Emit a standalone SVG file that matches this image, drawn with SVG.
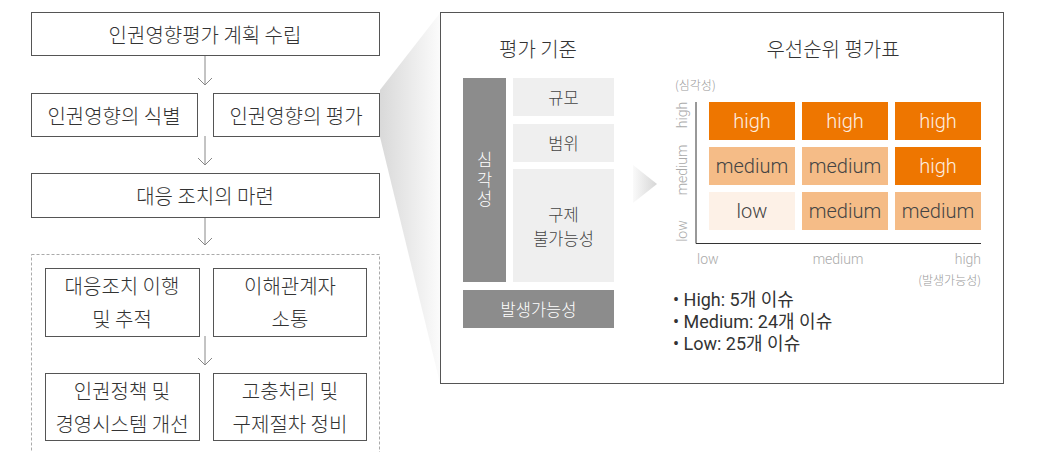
<svg xmlns="http://www.w3.org/2000/svg" width="1045" height="452" viewBox="0 0 1045 452">
<defs>
<linearGradient id="funnel" x1="380" y1="0" x2="440" y2="0" gradientUnits="userSpaceOnUse">
<stop offset="0" stop-color="#d9d9d9"/><stop offset="1" stop-color="#fbfbfb"/>
</linearGradient>
<linearGradient id="tri" x1="0" y1="0" x2="1" y2="0">
<stop offset="0" stop-color="#fafafa"/><stop offset="1" stop-color="#d6d6d6"/>
</linearGradient>
<marker id="chev" markerWidth="10" markerHeight="16" refX="8" refY="8" orient="auto" markerUnits="userSpaceOnUse" viewBox="0 0 10 16">
<path d="M1,1 L8,8 L1,15" fill="none" stroke="#888" stroke-width="1"/>
</marker>
<style>
.box{fill:#fff;stroke:#555;stroke-width:1}
.t{font-family:"Noto Sans CJK KR","Noto Sans",sans-serif;font-size:20px;font-weight:300;fill:#333;text-anchor:middle;dominant-baseline:central}
.c{font-family:"Noto Sans CJK KR","Noto Sans",sans-serif;font-size:16.5px;font-weight:300;text-anchor:middle;dominant-baseline:central}
.h{font-family:"Noto Sans CJK KR","Noto Sans",sans-serif;font-size:20px;font-weight:300;fill:#333;text-anchor:middle;dominant-baseline:central}
.cell{font-family:Roboto,"Noto Sans",sans-serif;font-size:20px;font-weight:300;text-anchor:middle;dominant-baseline:central}
.ax{font-family:Roboto,"Noto Sans",sans-serif;font-size:14px;font-weight:300;fill:#aaa}
.axk{font-family:"Noto Sans CJK KR",sans-serif;font-size:12px;font-weight:300;fill:#999}
.b{font-family:Roboto,"Noto Sans CJK KR",sans-serif;font-size:18px;font-weight:400;fill:#333}
.conn{stroke:#888;stroke-width:1;fill:none}
</style>
</defs>
<rect width="1045" height="452" fill="#fff"/>
<polygon points="440,13 380,90 380,137 440,383" fill="url(#funnel)"/>

<g id="connectors">
<line class="conn" x1="205" y1="55" x2="205" y2="85" marker-end="url(#chev)"/>
<line class="conn" x1="205" y1="136" x2="205" y2="165" marker-end="url(#chev)"/>
<line class="conn" x1="205" y1="217" x2="205" y2="245" marker-end="url(#chev)"/>
<line class="conn" x1="205" y1="336" x2="205" y2="365" marker-end="url(#chev)"/>
</g>

<g id="n-plan"><rect class="box" x="31.5" y="12.5" width="348" height="43"/><text class="t" x="205" y="34">인권영향평가 계획 수립</text></g>
<g id="n-identify"><rect class="box" x="31.5" y="93.5" width="166" height="43"/><text class="t" x="114" y="115">인권영향의 식별</text></g>
<g id="n-assess"><rect class="box" x="213.5" y="93.5" width="166" height="43"/><text class="t" x="296" y="115">인권영향의 평가</text></g>
<g id="n-measure"><rect class="box" x="31.5" y="173.5" width="348" height="44"/><text class="t" x="205" y="195">대응 조치의 마련</text></g>
<g id="n-group"><rect x="31.5" y="254.5" width="348" height="210" fill="none" stroke="#aaa" stroke-width="1" stroke-dasharray="3,2"/></g>
<g id="n-implement"><rect class="box" x="45.5" y="268.5" width="154" height="68"/><text class="t" x="122" y="285">대응조치 이행</text><text class="t" x="122" y="318">및 추적</text></g>
<g id="n-communicate"><rect class="box" x="213.5" y="268.5" width="153" height="68"/><text class="t" x="290" y="285">이해관계자</text><text class="t" x="290" y="318">소통</text></g>
<g id="n-policy"><rect class="box" x="45.5" y="373.5" width="154" height="67"/><text class="t" x="122" y="390">인권정책 및</text><text class="t" x="122" y="423">경영시스템 개선</text></g>
<g id="n-grievance"><rect class="box" x="213.5" y="373.5" width="153" height="67"/><text class="t" x="290" y="390">고충처리 및</text><text class="t" x="290" y="423">구제절차 정비</text></g>

<g id="panel">
<rect x="440.5" y="12.5" width="563" height="371" fill="#fff" stroke="#555" stroke-width="1"/>
<text class="h" x="538" y="48">평가 기준</text>
<text class="h" x="833" y="48">우선순위 평가표</text>
</g>

<g id="criteria">
<rect x="463" y="78" width="43" height="204" fill="#8c8c8c"/>
<text class="c" x="484.5" y="181" fill="#fff" font-size="17" writing-mode="vertical-rl" letter-spacing="3">심각성</text>
<rect x="513" y="78" width="101" height="38" fill="#efefef"/>
<text class="c" x="563.5" y="97" fill="#444">규모</text>
<rect x="513" y="124" width="101" height="38" fill="#efefef"/>
<text class="c" x="563.5" y="143" fill="#444">범위</text>
<rect x="513" y="169" width="101" height="113" fill="#efefef"/>
<text class="c" x="563.5" y="214" fill="#444">구제</text>
<text class="c" x="563.5" y="238" fill="#444">불가능성</text>
<rect x="463" y="290" width="151" height="38" fill="#8c8c8c"/>
<text class="c" x="538.5" y="309" fill="#fff">발생가능성</text>
</g>

<polygon points="633,165 657,184 633,203" fill="url(#tri)"/>

<g id="matrix">
<text class="axk" x="675" y="90">(심각성)</text>
<text class="ax" transform="translate(687,115) rotate(-90)" text-anchor="middle">high</text>
<text class="ax" transform="translate(687,170) rotate(-90)" text-anchor="middle">medium</text>
<text class="ax" transform="translate(687,231) rotate(-90)" text-anchor="middle">low</text>
<line x1="696" y1="102" x2="696" y2="243.5" stroke="#333" stroke-width="1"/>
<line x1="696" y1="243.5" x2="981" y2="243.5" stroke="#333" stroke-width="1"/>
<rect x="709" y="102" width="86" height="38" fill="#ee7600"/><text class="cell" x="752" y="121" fill="#fdeee0">high</text>
<rect x="802" y="102" width="86" height="38" fill="#ee7600"/><text class="cell" x="845" y="121" fill="#fdeee0">high</text>
<rect x="895" y="102" width="86" height="38" fill="#ee7600"/><text class="cell" x="938" y="121" fill="#fdeee0">high</text>
<rect x="709" y="147" width="86" height="38" fill="#f5bc87"/><text class="cell" x="752" y="166" fill="#444">medium</text>
<rect x="802" y="147" width="86" height="38" fill="#f5bc87"/><text class="cell" x="845" y="166" fill="#444">medium</text>
<rect x="895" y="147" width="86" height="38" fill="#ee7600"/><text class="cell" x="938" y="166" fill="#fdeee0">high</text>
<rect x="709" y="192" width="86" height="38" fill="#fdf1e7"/><text class="cell" x="752" y="211" fill="#444">low</text>
<rect x="802" y="192" width="86" height="38" fill="#f5bc87"/><text class="cell" x="845" y="211" fill="#444">medium</text>
<rect x="895" y="192" width="86" height="38" fill="#f5bc87"/><text class="cell" x="938" y="211" fill="#444">medium</text>
<text class="ax" x="697" y="264">low</text>
<text class="ax" x="838" y="264" text-anchor="middle">medium</text>
<text class="ax" x="981" y="264" text-anchor="end">high</text>
<text class="axk" x="981" y="285" text-anchor="end">(발생가능성)</text>
</g>

<g id="summary">
<text class="b" x="673" y="306">• High: 5개 이슈</text>
<text class="b" x="673" y="328">• Medium: 24개 이슈</text>
<text class="b" x="673" y="350">• Low: 25개 이슈</text>
</g>
</svg>
